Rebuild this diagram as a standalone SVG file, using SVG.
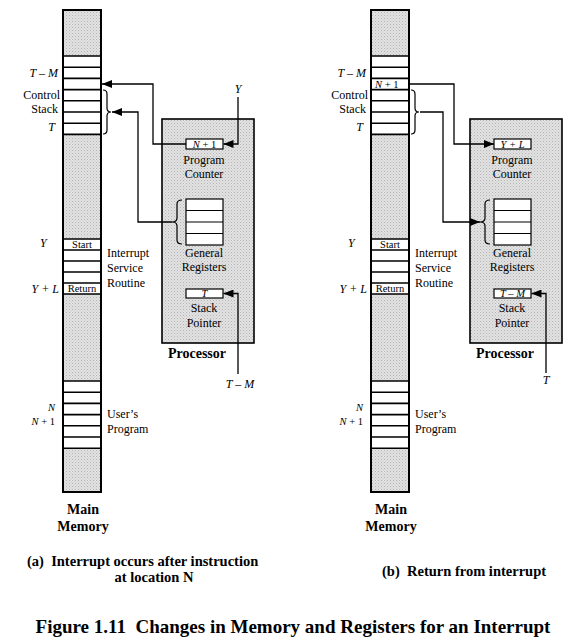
<svg xmlns="http://www.w3.org/2000/svg" width="570" height="642" viewBox="0 0 570 642" font-family="'Liberation Serif', 'Times New Roman', serif">
<defs>
<pattern id="hatch" width="3" height="3" patternUnits="userSpaceOnUse">
<rect width="3" height="3" fill="#e2e2e2"/>
<rect x="0" y="0" width="1" height="1" fill="#b4b4b4"/>
<rect x="1.5" y="1.5" width="1" height="1" fill="#c4c4c4"/>
</pattern>
<marker id="ah" viewBox="0 0 10 8" refX="10" refY="4" markerWidth="10" markerHeight="8" markerUnits="userSpaceOnUse" orient="auto">
<path d="M0,0 L10,4 L0,8 Z" fill="#000"/>
</marker>
</defs>
<style>
text{font-family:'Liberation Serif','Times New Roman',serif;font-size:12px;fill:#000;white-space:pre}
.i{font-style:italic}
.b{font-weight:bold}
.s{font-size:10.5px}
.m{text-anchor:middle}
.e{text-anchor:end}
.hat{fill:url(#hatch)}
.col{fill:none;stroke:#000;stroke-width:2}
.row{stroke:#000;stroke-width:1.6}
.box{fill:#fff;stroke:#000;stroke-width:1.2}
.proc{fill:url(#hatch);stroke:#000;stroke-width:1.6}
.conn{fill:none;stroke:#000;stroke-width:1.3;marker-end:url(#ah)}
.br{fill:none;stroke:#000;stroke-width:1.2}
.hd{font-weight:bold;font-size:14px}
.cap{font-weight:bold;font-size:14.5px}
</style>
<rect width="570" height="642" fill="#fff"/>

<!-- ===== Panel (a) ===== -->
<g id="memory-a">
<rect x="63" y="10" width="38" height="482" fill="#fff"/>
<rect class="hat" x="63" y="10" width="38" height="46"/>
<rect class="hat" x="63" y="134.4" width="38" height="104.6"/>
<rect class="hat" x="63" y="294" width="38" height="87"/>
<rect class="hat" x="63" y="448.2" width="38" height="43.8"/>
<g class="row">
<line x1="63" y1="56" x2="101" y2="56"/><line x1="63" y1="67.2" x2="101" y2="67.2"/><line x1="63" y1="78.4" x2="101" y2="78.4"/><line x1="63" y1="89.6" x2="101" y2="89.6"/><line x1="63" y1="100.8" x2="101" y2="100.8"/><line x1="63" y1="112" x2="101" y2="112"/><line x1="63" y1="123.2" x2="101" y2="123.2"/><line x1="63" y1="134.4" x2="101" y2="134.4"/>
<line x1="63" y1="239" x2="101" y2="239"/><line x1="63" y1="250" x2="101" y2="250"/><line x1="63" y1="261" x2="101" y2="261"/><line x1="63" y1="272" x2="101" y2="272"/><line x1="63" y1="283" x2="101" y2="283"/><line x1="63" y1="294" x2="101" y2="294"/>
<line x1="63" y1="381" x2="101" y2="381"/><line x1="63" y1="392.2" x2="101" y2="392.2"/><line x1="63" y1="403.4" x2="101" y2="403.4"/><line x1="63" y1="414.6" x2="101" y2="414.6"/><line x1="63" y1="425.8" x2="101" y2="425.8"/><line x1="63" y1="437" x2="101" y2="437"/><line x1="63" y1="448.2" x2="101" y2="448.2"/>
</g>
<rect class="col" x="63" y="10" width="38" height="482"/>
<text class="s m" x="82" y="248">Start</text>
<text class="s m" x="82" y="292">Return</text>
<text class="i e" x="58" y="77">T – M</text>
<text class="e" x="60" y="99">Control</text>
<text class="e" x="58" y="113">Stack</text>
<text class="i e" x="55" y="131">T</text>
<text class="i" x="40" y="247">Y</text>
<text class="i e" x="59" y="293">Y + L</text>
<text x="107" y="257">Interrupt</text>
<text x="107" y="272">Service</text>
<text x="107" y="287">Routine</text>
<text class="s i e" x="55" y="411">N</text>
<text class="s e" x="55" y="424.5"><tspan class="i">N</tspan> + 1</text>
<text x="107" y="418">User’s</text>
<text x="107" y="433">Program</text>
<text class="hd m" x="83" y="514">Main</text>
<text class="hd m" x="83" y="531">Memory</text>
<path class="br" d="M103,90 Q107,90 107,94 L107,108 Q107,112 111,112 Q107,112 107,116 L107,130 Q107,134 103,134"/>
</g>

<g id="processor-a">
<rect class="proc" x="162" y="119" width="92" height="224"/>
<rect class="box" x="186" y="139" width="37" height="10"/>
<text class="s m" x="204.5" y="147.5"><tspan class="i">N</tspan> + 1</text>
<text class="m" x="204" y="164">Program</text>
<text class="m" x="204" y="178">Counter</text>
<rect class="box" x="186" y="199" width="37" height="46"/>
<g class="row" style="stroke-width:1.2">
<line x1="186" y1="210.5" x2="223" y2="210.5"/><line x1="186" y1="222" x2="223" y2="222"/><line x1="186" y1="233.5" x2="223" y2="233.5"/>
</g>
<path class="br" d="M182,200 Q177,200 177,204 L177,218 Q177,222 172,222 Q177,222 177,226 L177,240 Q177,244 182,244"/>
<text class="m" x="204" y="257">General</text>
<text class="m" x="204" y="271">Registers</text>
<rect class="box" x="186" y="289" width="37" height="9"/>
<text class="s i m" x="204.5" y="297">T</text>
<text class="m" x="204" y="312">Stack</text>
<text class="m" x="204" y="327">Pointer</text>
<text class="hd m" x="197" y="358">Processor</text>
</g>

<g id="labels-a">
<text class="i m" x="238" y="93">Y</text>
<text class="i m" x="240" y="388">T – M</text>
<text class="cap" x="27" y="566">(a)  Interrupt occurs after instruction</text>
<text class="cap m" x="154" y="582">at location N</text>
</g>

<!-- ===== Panel (b) ===== -->
<g id="memory-b">
<rect x="371" y="10" width="38" height="482" fill="#fff"/>
<rect class="hat" x="371" y="10" width="38" height="46"/>
<rect class="hat" x="371" y="134.4" width="38" height="104.6"/>
<rect class="hat" x="371" y="294" width="38" height="87"/>
<rect class="hat" x="371" y="448.2" width="38" height="43.8"/>
<g class="row">
<line x1="371" y1="56" x2="409" y2="56"/><line x1="371" y1="67.2" x2="409" y2="67.2"/><line x1="371" y1="78.4" x2="409" y2="78.4"/><line x1="371" y1="89.6" x2="409" y2="89.6"/><line x1="371" y1="100.8" x2="409" y2="100.8"/><line x1="371" y1="112" x2="409" y2="112"/><line x1="371" y1="123.2" x2="409" y2="123.2"/><line x1="371" y1="134.4" x2="409" y2="134.4"/>
<line x1="371" y1="239" x2="409" y2="239"/><line x1="371" y1="250" x2="409" y2="250"/><line x1="371" y1="261" x2="409" y2="261"/><line x1="371" y1="272" x2="409" y2="272"/><line x1="371" y1="283" x2="409" y2="283"/><line x1="371" y1="294" x2="409" y2="294"/>
<line x1="371" y1="381" x2="409" y2="381"/><line x1="371" y1="392.2" x2="409" y2="392.2"/><line x1="371" y1="403.4" x2="409" y2="403.4"/><line x1="371" y1="414.6" x2="409" y2="414.6"/><line x1="371" y1="425.8" x2="409" y2="425.8"/><line x1="371" y1="437" x2="409" y2="437"/><line x1="371" y1="448.2" x2="409" y2="448.2"/>
</g>
<rect class="col" x="371" y="10" width="38" height="482"/>
<text class="s" x="375" y="87.5"><tspan class="i">N</tspan> + 1</text>
<text class="s m" x="390" y="248">Start</text>
<text class="s m" x="390" y="292">Return</text>
<text class="i e" x="366" y="77">T – M</text>
<text class="e" x="368" y="99">Control</text>
<text class="e" x="366" y="113">Stack</text>
<text class="i e" x="363" y="131">T</text>
<text class="i" x="348" y="247">Y</text>
<text class="i e" x="367" y="293">Y + L</text>
<text x="415" y="257">Interrupt</text>
<text x="415" y="272">Service</text>
<text x="415" y="287">Routine</text>
<text class="s i e" x="363" y="411">N</text>
<text class="s e" x="363" y="424.5"><tspan class="i">N</tspan> + 1</text>
<text x="415" y="418">User’s</text>
<text x="415" y="433">Program</text>
<text class="hd m" x="391" y="514">Main</text>
<text class="hd m" x="391" y="531">Memory</text>
<path class="br" d="M411,90 Q415,90 415,94 L415,108 Q415,112 419,112 Q415,112 415,116 L415,130 Q415,134 411,134"/>
</g>

<g id="processor-b">
<rect class="proc" x="470" y="119" width="92" height="224"/>
<rect class="box" x="494" y="139" width="37" height="10"/>
<text class="s i m" x="512.5" y="147.5">Y + L</text>
<text class="m" x="512" y="164">Program</text>
<text class="m" x="512" y="178">Counter</text>
<rect class="box" x="494" y="199" width="37" height="46"/>
<g class="row" style="stroke-width:1.2">
<line x1="494" y1="210.5" x2="531" y2="210.5"/><line x1="494" y1="222" x2="531" y2="222"/><line x1="494" y1="233.5" x2="531" y2="233.5"/>
</g>
<path class="br" d="M490,200 Q485,200 485,204 L485,218 Q485,222 480,222 Q485,222 485,226 L485,240 Q485,244 490,244"/>
<text class="m" x="512" y="257">General</text>
<text class="m" x="512" y="271">Registers</text>
<rect class="box" x="494" y="289" width="37" height="9"/>
<text class="s i m" x="512.5" y="297">T – M</text>
<text class="m" x="512" y="312">Stack</text>
<text class="m" x="512" y="327">Pointer</text>
<text class="hd m" x="505" y="358">Processor</text>
</g>

<g id="labels-b">
<text class="i m" x="546" y="384">T</text>
<text class="cap" x="382" y="576">(b)  Return from interrupt</text>
</g>

<g id="title">
<text class="b m" x="293" y="633" style="font-size:19px">Figure 1.11  Changes in Memory and Registers for an Interrupt</text>
</g>

<g id="connectors">
<path class="conn" d="M186,144 H153 V84 H102"/>
<path class="conn" d="M172,222 H138 V112 H112"/>
<path class="conn" d="M238,97 V144 H223.5"/>
<path class="conn" d="M238,374 V293.5 H223.5"/>
<path class="conn" d="M409,84 H454 V144 H494"/>
<path class="conn" d="M420,112 H443 V222 H480"/>
<path class="conn" d="M546,373 V293.5 H531.5"/>
</g>
</svg>
